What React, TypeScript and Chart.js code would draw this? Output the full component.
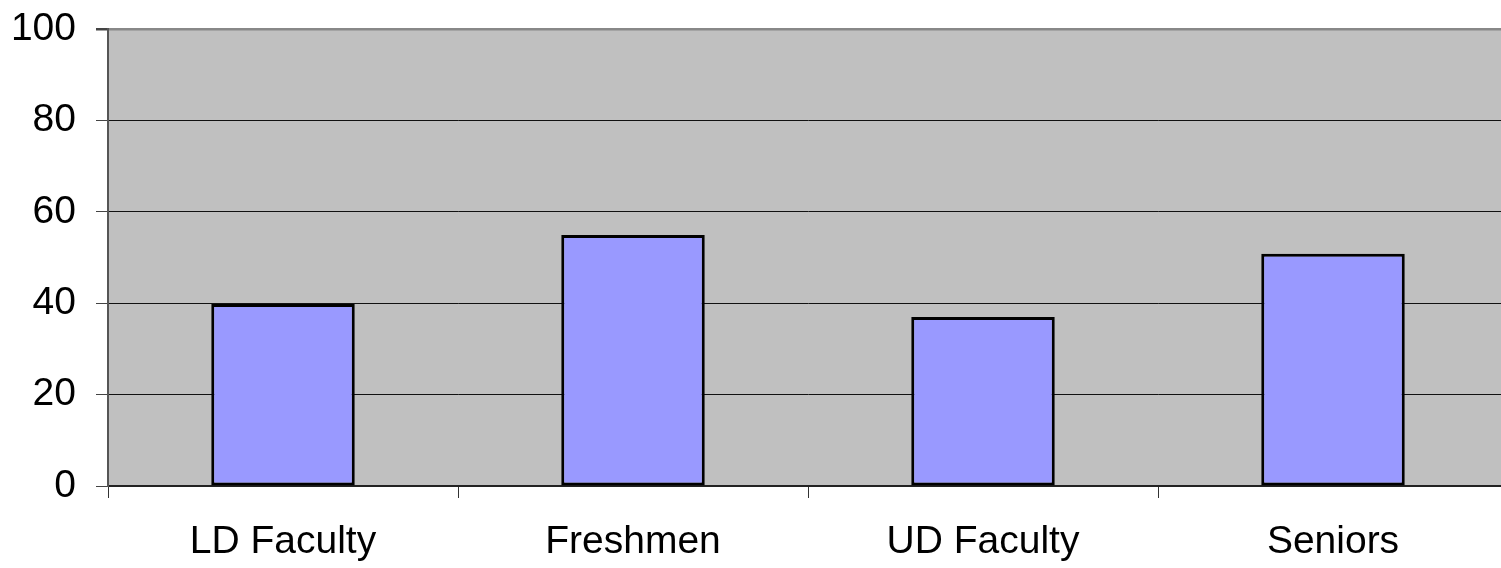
import React, { useEffect, useRef } from "react";
import { Chart, registerables } from "chart.js";

Chart.register(...registerables);

const categories = ["LD Faculty", "Freshmen", "UD Faculty", "Seniors"];
const values = [39.8, 54.9, 37.0, 50.8];
const yTicks = [0, 20, 40, 60, 80, 100];

const plotBg = {
  id: "plotBg",
  beforeDraw(chart: any) {
    const { ctx, chartArea } = chart;
    ctx.save();
    ctx.fillStyle = "#C0C0C0";
    ctx.fillRect(chartArea.left, chartArea.top, chartArea.right - chartArea.left, chartArea.bottom - chartArea.top);
    ctx.restore();
  },
};

export default function App() {
  const ref = useRef<HTMLCanvasElement>(null);
  useEffect(() => {
    document.body.style.margin = "0";
    const font = { family: "'Liberation Sans', Arial, sans-serif", size: 39 };
    const chart = new Chart(ref.current!, {
      type: "bar",
      data: {
        labels: categories,
        datasets: [
          {
            data: values,
            backgroundColor: "#9999FF",
            borderColor: "#000000",
            borderWidth: 3,
            borderSkipped: false,
            categoryPercentage: 1,
            barPercentage: 0.41,
          },
        ],
      },
      options: {
        animation: false,
        responsive: false,
        maintainAspectRatio: false,
        layout: { padding: { top: 29, right: 12, left: 0, bottom: 0 } },
        plugins: { legend: { display: false }, tooltip: { enabled: false } },
        scales: {
          x: {
            grid: {
              offset: true,
              drawOnChartArea: false,
              drawTicks: true,
              tickLength: 12,
              tickColor: "#333",
            },
            border: { color: "#222", width: 2 },
            ticks: { font, color: "#000", padding: 21 },
            afterFit: (s: any) => {
              s.height = 82;
              s.paddingLeft = 0;
              s.paddingRight = 0;
            },
          },
          y: {
            min: 0,
            max: 100,
            afterBuildTicks: (s: any) => {
              s.ticks = yTicks.map((v) => ({ value: v }));
            },
            grid: {
              color: (c: any) => (c.tick && c.tick.value === 100 ? "#888888" : "#111111"),
              lineWidth: (c: any) => (c.tick && c.tick.value === 100 ? 2.5 : 1),
              tickLength: 12,
              tickColor: "#444",
            },
            border: { color: "#555", width: 2 },
            ticks: { font, color: "#000", padding: 20 },
            afterFit: (s: any) => {
              s.width = 108;
              s.paddingTop = 0;
              s.paddingBottom = 0;
            },
          },
        },
      },
      plugins: [plotBg],
    });
    return () => chart.destroy();
  }, []);
  return (
    <div style={{ position: "absolute", left: 0, top: 0, width: 1501, height: 568, overflow: "hidden", background: "#fff" }}>
      <canvas ref={ref} width={1520} height={568} style={{ width: 1520, height: 568, display: "block" }} />
    </div>
  );
}
